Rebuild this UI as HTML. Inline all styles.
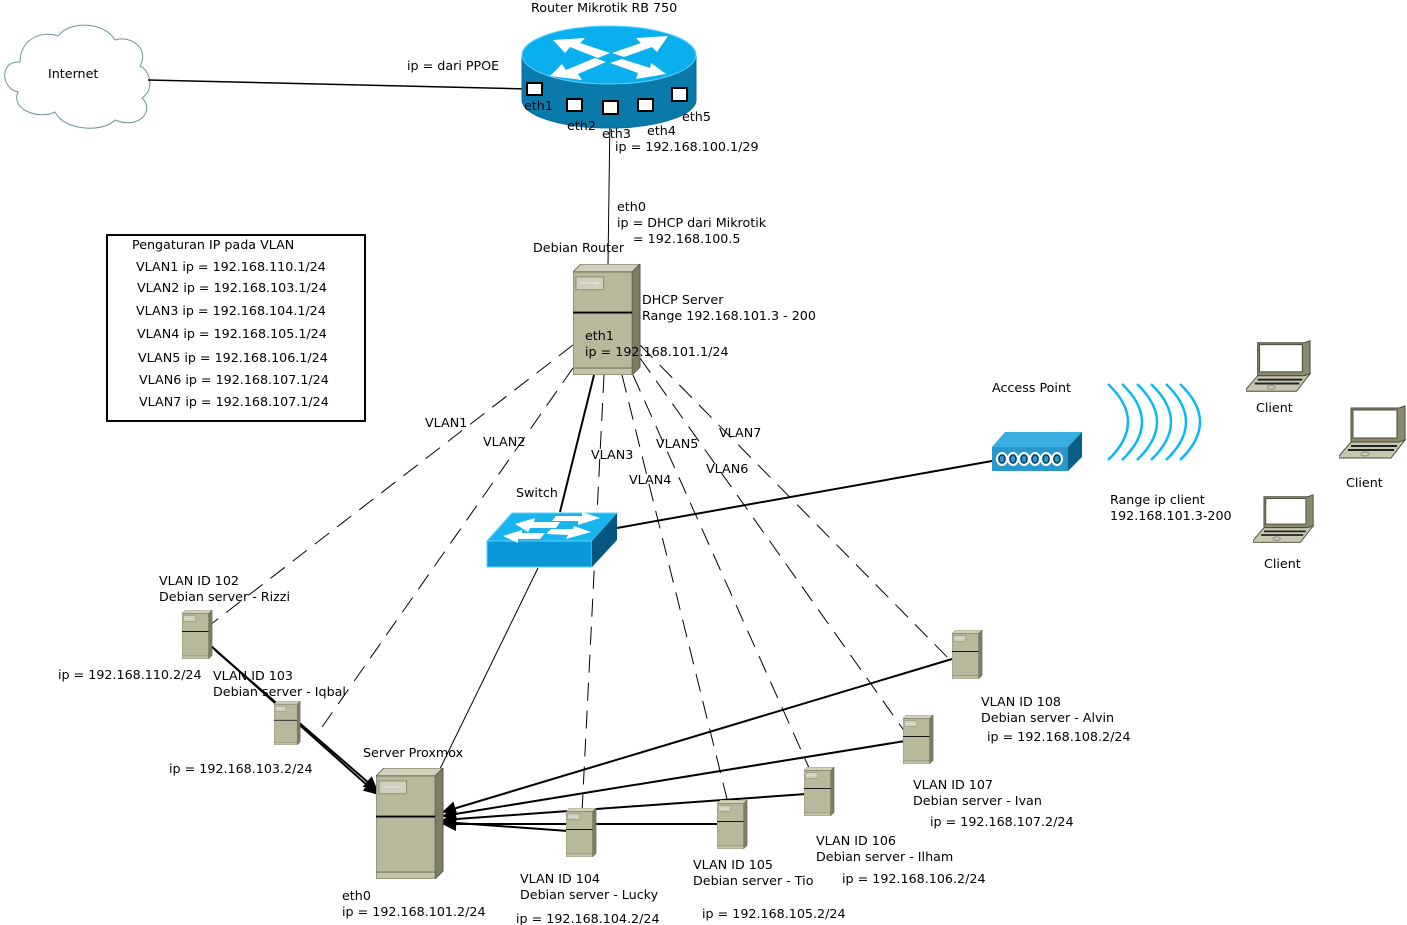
<!DOCTYPE html>
<html><head><meta charset="utf-8"><style>
html,body{margin:0;padding:0;background:#fff;}
svg{display:block;}
text{font-family:"DejaVu Sans","Liberation Sans",sans-serif;font-size:12.7px;fill:#000;}
</style></head><body>
<svg width="1407" height="925" viewBox="0 0 1407 925" xmlns="http://www.w3.org/2000/svg">
<defs>
<symbol id="srv" viewBox="0 0 70 112" preserveAspectRatio="none">
<polygon points="0,8 8,0 68,0 60,8" fill="#d2d2bc" stroke="#6b6b55" stroke-width="1"/>
<polygon points="60,8 68,0 68,104 60,112" fill="#7d7d64" stroke="#5c5c48" stroke-width="1"/>
<rect x="0" y="8" width="60" height="104" fill="#b8b89c" stroke="#6b6b55" stroke-width="1"/>
<line x1="0" y1="49" x2="60" y2="49" stroke="#000" stroke-width="2"/>
<rect x="3" y="13" width="28" height="13" fill="#cfcfbb" stroke="#8a8a72"/>
<line x1="7" y1="19" x2="26" y2="19" stroke="#eee"/>
<rect x="0" y="105" width="60" height="7" fill="#c4c4aa" stroke="#6b6b55"/>
</symbol>
<symbol id="lap" viewBox="0 0 68 54">
<polygon points="12,2 60,2 66,0 66,34 60,36 12,36" fill="#8a8a6e" stroke="#4a4a38"/>
<rect x="14" y="4" width="44" height="28" fill="#fff" stroke="#4a4a38"/>
<polygon points="12,36 60,36 66,34 52,52 0,52 0,50" fill="#c8c8ae" stroke="#4a4a38"/>
<line x1="12" y1="40" x2="58" y2="40" stroke="#222" stroke-width="2"/>
<line x1="9" y1="44" x2="55" y2="44" stroke="#222" stroke-width="2"/>
<ellipse cx="26" cy="48" rx="4" ry="2" fill="none" stroke="#888"/>
</symbol>
<marker id="ar" markerWidth="14" markerHeight="14" refX="13" refY="7" orient="auto" markerUnits="userSpaceOnUse" viewBox="0 0 14 14"><path d="M0,0 L14,7 L0,14 z" fill="#000"/></marker>
</defs>

<path d="M20,62 C0,60 0,88 18,92 C10,110 40,120 55,112 C65,132 105,132 115,120 C140,130 155,110 142,98 C155,90 150,70 140,66 C150,48 130,35 115,40 C105,22 70,20 58,36 C40,30 20,40 20,62 Z" fill="#fff" stroke="#6e9696" stroke-width="1"/>
<text x="48" y="78">Internet</text>

<line x1="148" y1="80" x2="528" y2="89" stroke="#000" stroke-width="1.5"/>
<line x1="610" y1="115" x2="608" y2="265" stroke="#000" stroke-width="1"/>
<line x1="594" y1="375" x2="560" y2="512" stroke="#000" stroke-width="2"/>
<line x1="617" y1="528" x2="992" y2="461" stroke="#000" stroke-width="2"/>
<line x1="538" y1="568" x2="437" y2="775" stroke="#000" stroke-width="1"/>

<g stroke="#000" stroke-width="1" stroke-dasharray="18,10" fill="none">
<line x1="573" y1="345" x2="210" y2="625"/>
<line x1="573" y1="368" x2="320" y2="730"/>
<line x1="604" y1="375" x2="582" y2="812"/>
<line x1="622" y1="375" x2="728" y2="803"/>
<line x1="633" y1="375" x2="810" y2="770"/>
<line x1="640" y1="358" x2="905" y2="732"/>
<line x1="640" y1="345" x2="952" y2="662"/>
</g>

<g stroke="#000" stroke-width="2" fill="none" marker-end="url(#ar)">
<line x1="210" y1="645" x2="377" y2="794"/>
<line x1="215" y1="650" x2="377" y2="790"/>
<line x1="952" y1="659" x2="443" y2="812"/>
<line x1="905" y1="741" x2="443" y2="816"/>
<line x1="806" y1="794" x2="443" y2="820"/>
<line x1="719" y1="824" x2="443" y2="824"/>
<line x1="568" y1="831" x2="443" y2="822"/>
</g>

<path d="M522,55 L522,100 A87,28 0 0 0 696,100 L696,55 Z" fill="#0a7aab" stroke="#0a6a98"/>
<ellipse cx="609" cy="55" rx="87" ry="29" fill="#0ab0ee" stroke="#5dd0ff"/>
<g fill="#fff">
<polygon points="553,40 585,38 580,43 610,53 598,58 570,47 565,53"/>
<polygon points="668,36 636,38 641,43 612,53 624,57 652,47 657,52"/>
<polygon points="550,76 582,80 578,74 606,62 595,58 566,70 562,64"/>
<polygon points="666,74 636,79 638,73 610,63 622,59 650,68 651,63"/>
</g>
<g fill="#fff" stroke="#000" stroke-width="2">
<rect x="527" y="83" width="15" height="12"/>
<rect x="567" y="99" width="15" height="12"/>
<rect x="603" y="101" width="15" height="13"/>
<rect x="638" y="99" width="15" height="12"/>
<rect x="672" y="88" width="15" height="13"/>
</g>
<text x="531" y="12">Router Mikrotik RB 750</text>
<text x="407" y="70">ip = dari PPOE</text>
<text x="524" y="110">eth1</text>
<text x="567" y="130">eth2</text>
<text x="602" y="138">eth3</text>
<text x="647" y="135">eth4</text>
<text x="682" y="121">eth5</text>
<text x="615" y="151">ip = 192.168.100.1/29</text>
<text x="617" y="211">eth0</text>
<text x="617" y="227">ip = DHCP dari Mikrotik</text>
<text x="633" y="243">= 192.168.100.5</text>

<use href="#srv" x="573" y="264" width="69" height="111"/>
<text x="533" y="252">Debian Router</text>
<text x="642" y="304">DHCP Server</text>
<text x="642" y="320">Range 192.168.101.3 - 200</text>
<text x="585" y="340">eth1</text>
<text x="585" y="356">ip = 192.168.101.1/24</text>

<rect x="107" y="235" width="258" height="186" fill="none" stroke="#000" stroke-width="2"/>
<text x="132" y="249">Pengaturan IP pada VLAN</text>
<text x="136" y="271">VLAN1 ip = 192.168.110.1/24</text>
<text x="137" y="292">VLAN2 ip = 192.168.103.1/24</text>
<text x="136" y="315">VLAN3 ip = 192.168.104.1/24</text>
<text x="137" y="338">VLAN4 ip = 192.168.105.1/24</text>
<text x="138" y="362">VLAN5 ip = 192.168.106.1/24</text>
<text x="139" y="384">VLAN6 ip = 192.168.107.1/24</text>
<text x="139" y="406">VLAN7 ip = 192.168.107.1/24</text>

<text x="425" y="427">VLAN1</text>
<text x="483" y="446">VLAN2</text>
<text x="591" y="459">VLAN3</text>
<text x="629" y="484">VLAN4</text>
<text x="656" y="448">VLAN5</text>
<text x="706" y="473">VLAN6</text>
<text x="719" y="437">VLAN7</text>

<polygon points="487,541 512,513 617,513 592,541" fill="#18b4ee" stroke="#5cd0ff"/>
<rect x="487" y="541" width="105" height="26" fill="#0a98d8" stroke="#5cd0ff"/>
<polygon points="592,541 617,513 617,540 592,567" fill="#06577f"/>
<g fill="#fff">
<polygon points="515,524 535,518 534,522 560,522 556,528 530,528 528,532"/>
<polygon points="600,518 582,512 582,516 556,516 552,521 578,521 578,525"/>
<polygon points="503,536 522,530 522,533 545,533 540,539 518,539 518,543"/>
<polygon points="591,532 574,526 573,529 551,529 546,534 568,535 566,539"/>
</g>
<text x="516" y="497">Switch</text>

<polygon points="992,447 1005,432 1082,432 1068,447" fill="#3aaee0"/>
<rect x="992" y="447" width="76" height="24" fill="#2a98cc"/>
<polygon points="1068,447 1082,432 1082,457 1068,471" fill="#0a5f86"/>
<g fill="none" stroke="#fff" stroke-width="2"><ellipse cx="1002" cy="459" rx="5" ry="6"/><ellipse cx="1013" cy="459" rx="5" ry="6"/><ellipse cx="1024" cy="459" rx="5" ry="6"/><ellipse cx="1035" cy="459" rx="5" ry="6"/><ellipse cx="1046" cy="459" rx="5" ry="6"/><ellipse cx="1057" cy="459" rx="5" ry="6"/></g>
<g fill="none" stroke="#0d1f2d" stroke-width="1"><ellipse cx="1002" cy="459" rx="3" ry="4"/><ellipse cx="1013" cy="459" rx="3" ry="4"/><ellipse cx="1024" cy="459" rx="3" ry="4"/><ellipse cx="1035" cy="459" rx="3" ry="4"/><ellipse cx="1046" cy="459" rx="3" ry="4"/><ellipse cx="1057" cy="459" rx="3" ry="4"/></g>
<text x="992" y="392">Access Point</text>
<g fill="none" stroke="#0ab8f8" stroke-width="2.5">
<path d="M1108,384 Q1148,422 1108,460"/>
<path d="M1122,384 Q1162,422 1122,460"/>
<path d="M1137,384 Q1177,422 1137,460"/>
<path d="M1151,384 Q1191,422 1151,460"/>
<path d="M1166,384 Q1206,422 1166,460"/>
<path d="M1180,384 Q1220,422 1180,460"/>
</g>
<text x="1110" y="504">Range ip client</text>
<text x="1110" y="520">192.168.101.3-200</text>

<use href="#lap" x="1246" y="340" width="66" height="54"/>
<text x="1256" y="412">Client</text>
<use href="#lap" x="1339" y="405" width="68" height="56"/>
<text x="1346" y="487">Client</text>
<use href="#lap" x="1253" y="494" width="62" height="51"/>
<text x="1264" y="568">Client</text>

<use href="#srv" x="182" y="610" width="31" height="49"/>
<text x="159" y="585">VLAN ID 102</text>
<text x="159" y="601">Debian server - Rizzi</text>
<text x="58" y="679">ip = 192.168.110.2/24</text>

<use href="#srv" x="274" y="701" width="27" height="44"/>
<text x="213" y="680">VLAN ID 103</text>
<text x="213" y="696">Debian server - Iqbal</text>
<text x="169" y="773">ip = 192.168.103.2/24</text>

<use href="#srv" x="376" y="768" width="69" height="111"/>
<text x="363" y="757">Server Proxmox</text>
<text x="342" y="900">eth0</text>
<text x="342" y="916">ip = 192.168.101.2/24</text>

<use href="#srv" x="566" y="808" width="31" height="49"/>
<text x="520" y="883">VLAN ID 104</text>
<text x="520" y="899">Debian server - Lucky</text>
<text x="516" y="923">ip = 192.168.104.2/24</text>

<use href="#srv" x="717" y="800" width="31" height="49"/>
<text x="693" y="869">VLAN ID 105</text>
<text x="693" y="885">Debian server - Tio</text>
<text x="702" y="918">ip = 192.168.105.2/24</text>

<use href="#srv" x="804" y="767" width="31" height="49"/>
<text x="816" y="845">VLAN ID 106</text>
<text x="816" y="861">Debian server - Ilham</text>
<text x="842" y="883">ip = 192.168.106.2/24</text>

<use href="#srv" x="903" y="715" width="31" height="49"/>
<text x="913" y="789">VLAN ID 107</text>
<text x="913" y="805">Debian server - Ivan</text>
<text x="930" y="826">ip = 192.168.107.2/24</text>

<use href="#srv" x="952" y="630" width="31" height="49"/>
<text x="981" y="706">VLAN ID 108</text>
<text x="981" y="722">Debian server - Alvin</text>
<text x="987" y="741">ip = 192.168.108.2/24</text>
</svg>
</body></html>
